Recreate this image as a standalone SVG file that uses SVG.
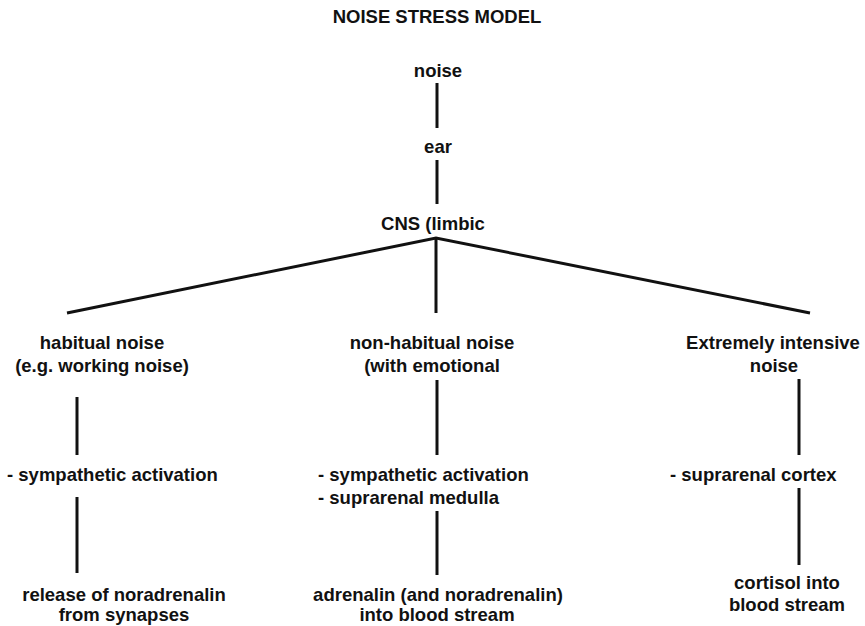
<svg xmlns="http://www.w3.org/2000/svg" width="865" height="626" viewBox="0 0 865 626">
  <style>
    text { font-family: "Liberation Sans", Arial, sans-serif; font-weight: bold; font-size: 18.5px; fill: #111; text-anchor: middle; }
    text.left { text-anchor: start; }
    .edge { stroke: #111; stroke-width: 3; fill: none; }
  </style>
  <rect width="865" height="626" fill="#fff"/>

  <text id="title" x="437" y="23">NOISE STRESS MODEL</text>

  <g id="connectors">
    <line class="edge" x1="437" y1="83" x2="437" y2="128"/>
    <line class="edge" x1="437" y1="160" x2="437" y2="204"/>
    <polyline class="edge" points="67,313 436,238 810,313"/>
    <line class="edge" x1="436" y1="238" x2="436" y2="313"/>
    <line class="edge" x1="77" y1="397" x2="77" y2="455"/>
    <line class="edge" x1="77" y1="497" x2="77" y2="573"/>
    <line class="edge" x1="437" y1="380" x2="437" y2="455"/>
    <line class="edge" x1="437" y1="511" x2="437" y2="575"/>
    <line class="edge" x1="799" y1="379" x2="799" y2="455"/>
    <line class="edge" x1="799" y1="488" x2="799" y2="565"/>
  </g>

  <g id="noise"><text x="438" y="77">noise</text></g>
  <g id="ear"><text x="438" y="153">ear</text></g>
  <g id="cns"><text x="433" y="230">CNS (limbic</text></g>

  <g id="habitual">
    <text x="102" y="349">habitual noise</text>
    <text x="102" y="372">(e.g. working noise)</text>
  </g>
  <g id="nonhabitual">
    <text x="432" y="349">non-habitual noise</text>
    <text x="432" y="372">(with emotional</text>
  </g>
  <g id="intensive">
    <text x="773" y="349">Extremely intensive</text>
    <text x="774" y="372">noise</text>
  </g>

  <g id="sympathetic-left"><text class="left" x="7" y="481">- sympathetic activation</text></g>
  <g id="sympathetic-medulla">
    <text class="left" x="318" y="481">- sympathetic activation</text>
    <text class="left" x="318" y="504">- suprarenal medulla</text>
  </g>
  <g id="cortex"><text class="left" x="670" y="481">- suprarenal cortex</text></g>

  <g id="noradrenalin">
    <text x="124" y="601">release of noradrenalin</text>
    <text x="124" y="621">from synapses</text>
  </g>
  <g id="adrenalin">
    <text x="438" y="601">adrenalin (and noradrenalin)</text>
    <text x="437" y="621">into blood stream</text>
  </g>
  <g id="cortisol">
    <text x="787" y="589">cortisol into</text>
    <text x="787" y="611">blood stream</text>
  </g>
</svg>
